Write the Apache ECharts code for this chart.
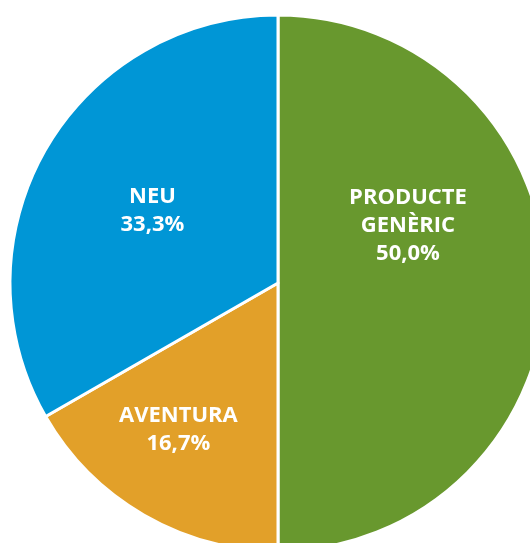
<!DOCTYPE html>
<html>
<head>
<meta charset="utf-8">
<script src="https://cdn.jsdelivr.net/npm/echarts@6/dist/echarts.min.js"></script>
<style>
html, body { margin: 0; padding: 0; background: #fff; }
#chart { width: 530px; height: 543px; }
</style>
</head>
<body>
<div id="chart"></div>
<script>
var categories = ['PRODUCTE\nGENÈRIC', 'AVENTURA', 'NEU'];
var values = [50.0, 16.7, 33.3];
var colors = ['#68982e', '#e2a029', '#0096d6'];
// desplaçament de les etiquetes respecte a la posició 'inner'
var labelShift = [[-7, -57], [-31, 28], [-7, -4]];

var chart = echarts.init(document.getElementById('chart'));

var pieData = [];
for (var i = 0; i < categories.length; i++) {
	pieData.push({ name: categories[i], value: values[i], itemStyle: { color: colors[i] } });
}

chart.setOption({
	animation: false,
	series: [{
		type: 'pie',
		center: [278, 283],
		radius: 268,
		startAngle: 90,
		clockwise: true,
		data: pieData,
		itemStyle: { borderColor: '#fff', borderWidth: 3 },
		label: {
			position: 'inner',
			color: '#fff',
			fontFamily: 'Open Sans',
			fontWeight: 'bold',
			fontSize: 22,
			lineHeight: 28,
			formatter: function (p) {
				return p.name + '\n' + p.value.toFixed(1).replace('.', ',') + '%';
			}
		},
		labelLine: { show: false },
		labelLayout: function (p) {
			var s = labelShift[p.dataIndex];
			return { dx: s[0], dy: s[1] };
		}
	}]
});
</script>
</body>
</html>
